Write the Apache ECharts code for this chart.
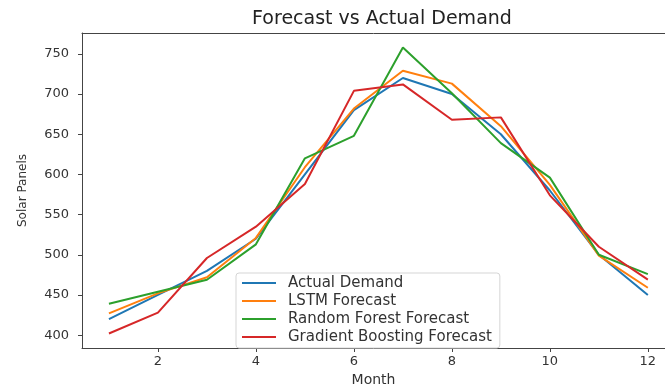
<!DOCTYPE html>
<html>
<head>
<meta charset="utf-8">
<script src="https://cdn.jsdelivr.net/npm/echarts@6/dist/echarts.min.js"></script>
<style>
  html, body { margin: 0; padding: 0; background: #fff; }
  #chart { width: 665px; height: 392px; }
</style>
</head>
<body>
<div id="chart"></div>
<script>
// values
const months = [1, 2, 3, 4, 5, 6, 7, 8, 9, 10, 11, 12];
const actualDemand = [420, 450, 480, 520, 600, 680, 720, 700, 650, 580, 500, 450];
const lstmForecast = [427, 452, 472, 521, 609, 682, 729, 713, 660, 587, 499, 459];
const rfForecast = [439, 454, 469, 513, 620, 648, 758, 701, 639, 596, 500, 476];
const gbForecast = [402, 428, 496, 535, 588, 704, 712, 668, 671, 574, 510, 469];
const xTicks = [2, 4, 6, 8, 10, 12];
const yTicks = [400, 450, 500, 550, 600, 650, 700, 750];

const seriesNames = ["Actual Demand", "LSTM Forecast", "Random Forest Forecast", "Gradient Boosting Forecast"];
const seriesValues = [actualDemand, lstmForecast, rfForecast, gbForecast];
const colors = ["#1f77b4", "#ff7f0e", "#2ca02c", "#d62728"];

const font = "DejaVu Sans";
const axisColor = "#444";

let chart = echarts.init(document.getElementById("chart"));

let series = seriesNames.map((name, i) => {
  return {
    name: name,
    type: "line",
    showSymbol: false,
    symbol: "none",
    data: months.map((m, j) => [m, seriesValues[i][j]]),
    lineStyle: { width: 2, color: colors[i] },
    itemStyle: { color: colors[i] },
    z: 2 + i,
  };
});

chart.setOption({
  animation: false,
  backgroundColor: "#fff",
  title: {
    text: "Forecast vs Actual Demand",
    left: 377,
    textAlign: "center",
    top: 5,
    textStyle: { fontFamily: font, fontSize: 19, fontWeight: "normal", color: "#222" },
  },
  grid: {
    left: 82,
    top: 33,
    right: 0,
    height: 322,
  },
  legend: {
    orient: "vertical",
    left: 236,
    top: 273,
    data: seriesNames.map((n, i) => ({ name: n, icon: "rect", itemStyle: { color: colors[i] } })),
    itemWidth: 34,
    itemHeight: 2,
    itemGap: 0,
    padding: [1, 8, 2, 6],
    backgroundColor: "#fff",
    borderColor: "#d5d5d5",
    borderWidth: 1,
    borderRadius: 3,
    textStyle: {
      fontFamily: font,
      fontSize: 15,
      lineHeight: 18,
      color: "#333",
      padding: [0, 0, 0, 7],
    },
  },
  xAxis: [
    {
      type: "value",
      min: 0.45,
      max: 12.35,
      name: "Month",
      nameLocation: "middle",
      nameGap: 25,
      nameTextStyle: { fontFamily: font, fontSize: 14, color: "#333" },
      axisLine: { lineStyle: { color: axisColor, width: 1 } },
      axisTick: { show: true, length: 4, customValues: xTicks, lineStyle: { color: axisColor } },
      axisLabel: { customValues: xTicks, margin: 7, fontFamily: font, fontSize: 13, color: "#333" },
      splitLine: { show: false },
    },
    {
      // top spine only
      type: "value",
      position: "top",
      min: 0.45,
      max: 12.35,
      axisLine: { show: true, onZero: false, lineStyle: { color: axisColor, width: 1 } },
      axisTick: { show: false },
      axisLabel: { show: false },
      splitLine: { show: false },
    },
  ],
  yAxis: {
    type: "value",
    min: 384,
    max: 776,
    name: "Solar Panels",
    nameLocation: "middle",
    nameRotate: 90,
    nameGap: 53,
    nameTextStyle: { fontFamily: font, fontSize: 12, color: "#333" },
    axisLine: { show: true, lineStyle: { color: axisColor, width: 1 } },
    axisTick: { show: true, length: 4, customValues: yTicks, lineStyle: { color: axisColor } },
    axisLabel: { customValues: yTicks, margin: 13, fontFamily: font, fontSize: 13, color: "#333" },
    splitLine: { show: false },
  },
  series: series,
});
</script>
</body>
</html>
